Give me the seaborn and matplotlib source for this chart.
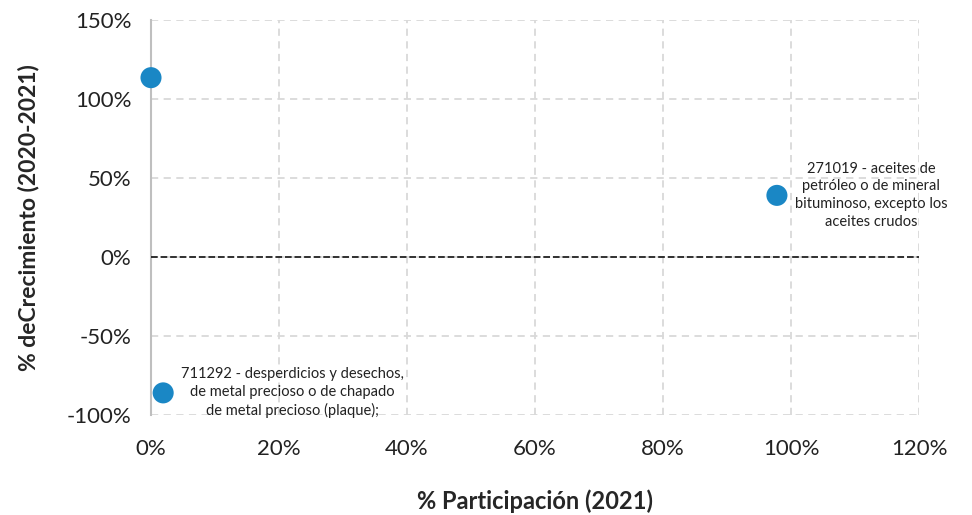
import pandas as pd
import seaborn as sns
import matplotlib.pyplot as plt
import matplotlib.ticker as ticker

# data
codes = ["otro", "711292", "271019"]
participacion = [0.0, 1.9, 97.8]
crecimiento = [113.5, -86.0, 39.0]
etiquetas = [
    None,
    "711292 - desperdicios y desechos,\nde metal precioso o de chapado\nde metal precioso (plaque);",
    "271019 - aceites de\npetróleo o de mineral\nbituminoso, excepto los\naceites crudos",
]
x_ticks = [0, 20, 40, 60, 80, 100, 120]
y_ticks = [-100, -50, 0, 50, 100, 150]

df = pd.DataFrame({"codigo": codes, "part": participacion, "crec": crecimiento})

sns.set_theme(style="white")
plt.rcParams["font.family"] = ["Lato", "DejaVu Sans"]

fig = plt.figure(figsize=(9.72, 5.15), dpi=100)
ax = fig.add_axes([151 / 972, 100 / 515, 768 / 972, 395 / 515])

sns.scatterplot(
    data=df, x="part", y="crec", ax=ax, s=230, color="#1a87c5",
    edgecolor="none", zorder=5, clip_on=False, legend=False,
)

ax.axhline(0, color="#222222", linestyle="--", linewidth=1.3, zorder=3)

ax.set_xlim(0, 120)
ax.set_ylim(-100, 150)
ax.set_xticks(x_ticks)
ax.set_yticks(y_ticks)
ax.xaxis.set_major_formatter(ticker.FuncFormatter(lambda v, p: f"{v:.0f}%"))
ax.yaxis.set_major_formatter(ticker.FuncFormatter(lambda v, p: f"{v:.0f}%"))

ax.grid(True, color="#d9d9d9", linestyle="--", linewidth=1.3, dashes=(4, 3))
ax.set_axisbelow(True)
for side in ["top", "right", "bottom"]:
    ax.spines[side].set_visible(False)
ax.spines["left"].set_color("#bfbfbf")
ax.spines["left"].set_linewidth(1.5)

ax.tick_params(axis="both", length=0, labelsize=16, colors="#222222")
ax.tick_params(axis="x", pad=17)
ax.tick_params(axis="y", pad=14)

ax.set_xlabel("% Participación (2021)", fontsize=17, fontweight="bold", labelpad=22)
ax.set_ylabel("% deCrecimiento (2020-2021)", fontsize=16.5, fontweight="bold", labelpad=20)

for xv, yv, lab in zip(participacion, crecimiento, etiquetas):
    if lab:
        ax.annotate(lab, (xv, yv), xytext=(13, 0), textcoords="offset points",
                    ha="left", va="center", multialignment="center",
                    fontsize=10.5, color="#222222", linespacing=1.35, zorder=6)

plt.savefig("out.png", dpi=100)
